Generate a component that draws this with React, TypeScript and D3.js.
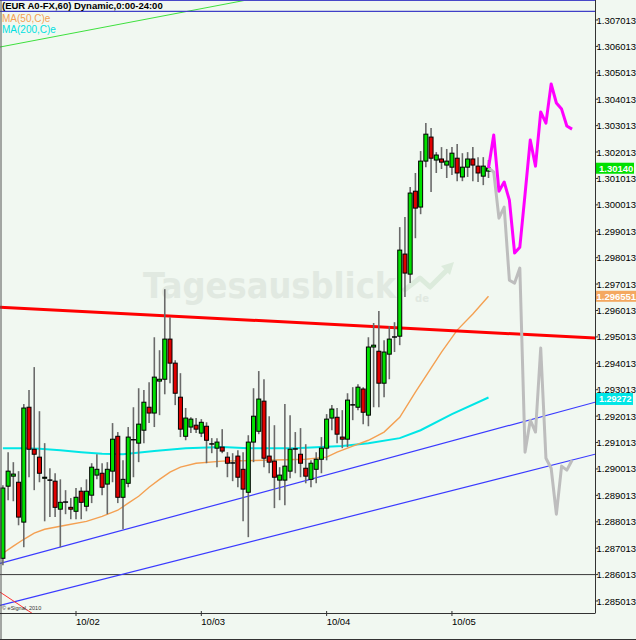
import React, { useEffect } from 'react';
import * as d3 from 'd3';

const W = 636;
const H = 640;
const START = Date.UTC(2012, 9, 1, 10);
const HOUR = 3600000;

const opens = [1.28663,1.28936,1.28974,1.28951,1.28800,1.29235,1.29076,1.29046,1.28966,1.28962,1.28955,1.28849,1.28875,1.28856,1.28841,1.28917,1.28860,1.28902,1.28978,1.28985,1.28944,1.28993,1.29125,1.28894,1.28947,1.29110,1.29099,1.29148,1.29235,1.29213,1.29334,1.29341,1.29493,1.29402,1.29273,1.29125,1.29160,1.29167,1.29137,1.29163,1.29095,1.29080,1.29084,1.29046,1.29023,1.29050,1.29000,1.28913,1.29103,1.29144,1.29258,1.29050,1.29031,1.28959,1.28959,1.28993,1.29076,1.29057,1.29004,1.28962,1.29000,1.29038,1.29080,1.29194,1.29197,1.29122,1.29114,1.29243,1.29235,1.29304,1.29205,1.29463,1.29447,1.29326,1.29436,1.29500,1.29504,1.29815,1.29739,1.30053,1.29993,1.30167,1.30258,1.30171,1.30175,1.30152,1.30144,1.30178,1.30107,1.30144,1.30175,1.30148,1.30110,1.30129];
const highs = [1.28940,1.29065,1.29027,1.28993,1.29247,1.29300,1.29387,1.29220,1.29099,1.29004,1.28985,1.28962,1.28921,1.28891,1.28929,1.28932,1.28962,1.29023,1.29057,1.29023,1.29027,1.29175,1.29141,1.29034,1.29160,1.29235,1.29307,1.29300,1.29330,1.29500,1.29451,1.29682,1.29576,1.29413,1.29364,1.29232,1.29197,1.29194,1.29190,1.29178,1.29118,1.29118,1.29152,1.29065,1.29061,1.29072,1.29065,1.29129,1.29307,1.29372,1.29341,1.29201,1.29167,1.29008,1.29247,1.29205,1.29141,1.29156,1.29095,1.29034,1.29065,1.29122,1.29209,1.29243,1.29232,1.29224,1.29288,1.29311,1.29322,1.29311,1.29500,1.29554,1.29599,1.29489,1.29542,1.29557,1.29917,1.29955,1.30069,1.30122,1.30205,1.30311,1.30292,1.30201,1.30220,1.30213,1.30220,1.30232,1.30197,1.30201,1.30220,1.30182,1.30182,1.30171];
const lows = [1.28637,1.28883,1.28879,1.28788,1.28705,1.28970,1.28921,1.28951,1.28803,1.28819,1.28819,1.28705,1.28830,1.28811,1.28811,1.28811,1.28841,1.28872,1.28962,1.28902,1.28830,1.28951,1.28872,1.28773,1.28932,1.28970,1.29027,1.29099,1.29175,1.29160,1.29205,1.29284,1.29326,1.29243,1.29122,1.29110,1.29137,1.29137,1.29122,1.29023,1.29061,1.29008,1.29061,1.28970,1.28955,1.28932,1.28803,1.28743,1.29027,1.29133,1.29008,1.28985,1.28853,1.28883,1.28864,1.28966,1.28985,1.28970,1.28947,1.28932,1.28947,1.28985,1.29034,1.29148,1.29099,1.29080,1.29084,1.29186,1.29224,1.29171,1.29163,1.29235,1.29235,1.29273,1.29341,1.29444,1.29470,1.29652,1.29705,1.29875,1.29966,1.30144,1.30050,1.30122,1.30137,1.30103,1.30114,1.30091,1.30091,1.30107,1.30091,1.30088,1.30076,1.30103];
const closes = [1.28929,1.28993,1.28982,1.28819,1.29232,1.29076,1.29057,1.28985,1.28970,1.28959,1.28856,1.28875,1.28876,1.28849,1.28894,1.28875,1.28917,1.29008,1.29000,1.28932,1.29000,1.29114,1.28894,1.28962,1.29122,1.29112,1.29171,1.29254,1.29213,1.29349,1.29341,1.29493,1.29402,1.29288,1.29152,1.29194,1.29190,1.29152,1.29178,1.29110,1.29096,1.29103,1.29069,1.29023,1.29024,1.28970,1.28925,1.29103,1.29201,1.29266,1.29042,1.29027,1.28970,1.28978,1.29012,1.29076,1.29077,1.29023,1.28974,1.29023,1.29038,1.29080,1.29190,1.29228,1.29133,1.29114,1.29262,1.29244,1.29311,1.29216,1.29463,1.29470,1.29326,1.29444,1.29493,1.29501,1.29830,1.29743,1.30046,1.29989,1.30167,1.30269,1.30178,1.30190,1.30163,1.30167,1.30197,1.30122,1.30144,1.30175,1.30152,1.30122,1.30148,1.30141];

// moving averages (hour index, value)
const ma50Hours = [0,2,4,6,8,12,16,19,22,24,26,28,30,32,34,37,42,50,58,62,64,67,70,73,76,79,82,84,87,90,93];
const ma50Values = [1.28682,1.28709,1.28735,1.28758,1.28773,1.28788,1.28803,1.28822,1.28845,1.28872,1.28898,1.28932,1.28962,1.28989,1.29008,1.29023,1.29031,1.29034,1.29038,1.29046,1.29065,1.29088,1.29110,1.29141,1.29197,1.29292,1.29383,1.29444,1.29527,1.29588,1.29655];
const ma200Hours = [0,4,7,11,15,19,23,29,35,42,47,56,65,70,76,80,86,93];
const ma200Values = [1.29080,1.29080,1.29078,1.29072,1.29065,1.29059,1.29057,1.29069,1.29080,1.29084,1.29080,1.29080,1.29088,1.29099,1.29118,1.29148,1.29209,1.29272];

// projections
const projHours = [93,94,95,96,97,98,99,100,101,102,103,104,105,106,107,108,109];
const projMagenta = [1.30141,1.30266,1.30053,1.30088,1.30019,1.29819,1.29841,1.30042,1.30247,1.30148,1.30353,1.30311,1.30459,1.30387,1.30364,1.30300,1.30288];
const projGray = [1.30141,1.30126,1.29951,1.29993,1.29716,1.29705,1.29762,1.29065,1.29186,1.29141,1.29459,1.29042,1.29004,1.28830,1.29012,1.28997,1.29034];

// drawn trend lines: [hour, price] endpoints
const redTrend = [[-0.55, 1.29614], [113.4, 1.29497]];
const blueUpper = [[-0.55, 1.28644], [113.4, 1.29254]];
const blueLower = [[-0.55, 1.28485], [113.4, 1.29057]];
const greenTrend = [[-0.55, 1.30599], [46.7, 1.30777]];
const redThin = [[-0.55, 1.28535], [5.57, 1.28455]];
const blueTop = [[-0.55, 1.30734], [113.4, 1.30734]];
const horizLevel = 1.286013;

const priceTicks = [1.285013,1.286013,1.287013,1.288013,1.289013,1.290013,1.291013,1.292013,1.293013,1.294013,1.295013,1.296013,1.297013,1.298013,1.299013,1.300013,1.301013,1.302013,1.303013,1.304013,1.305013,1.306013,1.307013];
const dayTicks = [Date.UTC(2012, 9, 2), Date.UTC(2012, 9, 3), Date.UTC(2012, 9, 4), Date.UTC(2012, 9, 5)];

const lastPrice = 1.3014;
const lastMa50 = 1.296551;
const lastMa200 = 1.29272;

const BG = '#f1f8f1';
const PLOT_R = 595;
const PLOT_B = 613;

export default function App() {
  useEffect(() => {
    document.body.style.margin = '0';
  }, []);

  const x = d3.scaleUtc()
    .domain([new Date(START), new Date(START + 93 * HOUR)])
    .range([2.9, 488.5]);
  const y = d3.scaleLinear().domain([1.285013, 1.307013]).range([601, 20]);
  const xh = (h: number) => x(new Date(START + h * HOUR));

  const line = d3.line<[number, number]>().x(d => xh(d[0])).y(d => y(d[1]));
  const seg = (pts: number[][]) => line(pts as [number, number][]) || '';
  const ma50 = seg(ma50Hours.map((h, i) => [h, ma50Values[i]]));
  const ma200 = seg(ma200Hours.map((h, i) => [h, ma200Values[i]]));
  const mag = seg(projHours.map((h, i) => [h, projMagenta[i]]));
  const gray = seg(projHours.map((h, i) => [h, projGray[i]]));
  const fmtDay = d3.utcFormat('%m/%d');
  const fmtPrice = d3.format('.6f');
  const font = 'Liberation Sans, Arial, sans-serif';

  return (
    <svg width={W} height={H} style={{ position: 'absolute', left: 0, top: 0, display: 'block' }} fontFamily={font}>
      <defs>
        <clipPath id="plot"><rect x={0} y={0} width={PLOT_R} height={PLOT_B} /></clipPath>
      </defs>
      <rect x={0} y={0} width={W} height={H} fill={BG} />

      {/* watermark */}
      <g>
        <text transform="translate(143,298) scale(0.895,1)" fontFamily="DejaVu Sans, sans-serif" fontWeight="bold" fontSize={36} fill="#e1e9e1">Tagesausblick</text>
        <text x={415} y={302} fontFamily="DejaVu Sans, sans-serif" fontWeight="bold" fontSize={10} fill="#e1e9e1">de</text>
        <polyline points="403,291 420,278 430,287 449,268" fill="none" stroke="#dcebdc" strokeWidth={5} strokeLinejoin="round" />
        <polygon points="441,266 454,262 450,275" fill="#dcebdc" />
      </g>

      <g clipPath="url(#plot)">
        <line x1={0} x2={PLOT_R} y1={y(horizLevel)} y2={y(horizLevel)} stroke="#3a3a3a" strokeWidth={1} />
        <path d={seg(greenTrend)} stroke="#3ee03e" strokeWidth={1} fill="none" />
        <path d={seg(blueTop)} stroke="#4040c8" strokeWidth={1.2} fill="none" />
        <path d={seg(blueUpper)} stroke="#3a3aff" strokeWidth={1.2} fill="none" />
        <path d={seg(blueLower)} stroke="#3a3aff" strokeWidth={1.2} fill="none" />
        <path d={seg(redThin)} stroke="#ff3030" strokeWidth={1} fill="none" />
        <path d={ma200} stroke="#00e6e6" strokeWidth={2} fill="none" />
        <path d={ma50} stroke="#f4a052" strokeWidth={1.4} fill="none" />
        <path d={seg(redTrend)} stroke="#ff0000" strokeWidth={3} fill="none" />

        {opens.map((o, i) => {
          const cx = xh(i);
          const c = closes[i];
          const top = y(Math.max(o, c));
          const bot = y(Math.min(o, c));
          const doji = Math.abs(o - c) < 0.00003;
          return (
            <g key={i}>
              <line x1={cx} x2={cx} y1={y(highs[i])} y2={y(lows[i])} stroke="#6a6a6a" strokeWidth={1.6} />
              {doji ? (
                <line x1={cx - 2.5} x2={cx + 2.5} y1={y(c)} y2={y(c)} stroke="#000" strokeWidth={1.5} />
              ) : (
                <rect x={cx - 2} y={top} width={4} height={Math.max(1, bot - top)}
                  fill={c > o ? '#00e000' : '#e00000'} stroke="#000" strokeWidth={1} />
              )}
            </g>
          );
        })}

        <path d={gray} stroke="#bdbdbd" strokeWidth={3} fill="none" strokeLinejoin="round" />
        <path d={mag} stroke="#ff00ff" strokeWidth={3} fill="none" strokeLinejoin="round" />
      </g>

      {/* frame */}
      <line x1={0} x2={PLOT_R} y1={0.5} y2={0.5} stroke="#4848c8" strokeWidth={1} />
      <line x1={1} x2={1} y1={0} y2={H} stroke="#555" strokeWidth={1} />
      <line x1={PLOT_R + 0.5} x2={PLOT_R + 0.5} y1={0} y2={PLOT_B} stroke="#333" strokeWidth={1} />
      <line x1={0} x2={PLOT_R + 0.5} y1={PLOT_B + 0.5} y2={PLOT_B + 0.5} stroke="#333" strokeWidth={1} />
      <line x1={0} x2={W} y1={H - 0.5} y2={H - 0.5} stroke="#333" strokeWidth={1} />

      {/* right axis */}
      {priceTicks.map(v => (
        <g key={v}>
          <line x1={PLOT_R} x2={PLOT_R + 3} y1={y(v)} y2={y(v)} stroke="#333" />
          <text x={PLOT_R + 1.5} y={y(v) + 3.5} fontSize={9.5} fill="#000">{fmtPrice(v)}</text>
        </g>
      ))}

      {/* value boxes */}
      <rect x={PLOT_R + 1} y={y(lastPrice) - 5.5} width={38} height={11} fill="#00e000" />
      <text x={PLOT_R + 4} y={y(lastPrice) + 3.5} fontSize={9.5} fontWeight="bold" fill="#fff">{lastPrice.toFixed(5)}</text>
      <rect x={PLOT_R + 1} y={y(lastMa50) - 5.5} width={40} height={11} fill="#f4a860" />
      <text x={PLOT_R + 1.5} y={y(lastMa50) + 3.5} fontSize={9.5} fontWeight="bold" fill="#fff">{lastMa50.toFixed(6)}</text>
      <rect x={PLOT_R + 1} y={y(lastMa200) - 4.5} width={37} height={12} fill="#00e6e6" />
      <text x={PLOT_R + 4} y={y(lastMa200) + 5} fontSize={9} fontWeight="bold" fill="#fff">{lastMa200.toFixed(5)}</text>

      {/* bottom axis */}
      {dayTicks.map(t => (
        <g key={t}>
          <line x1={x(new Date(t))} x2={x(new Date(t))} y1={PLOT_B - 2} y2={PLOT_B + 3} stroke="#333" />
          <text x={x(new Date(t))} y={625} fontSize={9.5} fill="#000">{fmtDay(new Date(t))}</text>
        </g>
      ))}

      {/* titles */}
      <text x={2} y={9} fontSize={9.5} fontWeight="bold" fill="#000">(EUR A0-FX,60) Dynamic,0:00-24:00</text>
      <text x={2} y={21.5} fontSize={10} fill="#f4a052">MA(50,C)e</text>
      <text x={2} y={33} fontSize={10} fill="#00e0e0">MA(200,C)e</text>
      <text x={2} y={610} fontSize={5.5} fill="#333">© eSignal, 2010</text>
    </svg>
  );
}
